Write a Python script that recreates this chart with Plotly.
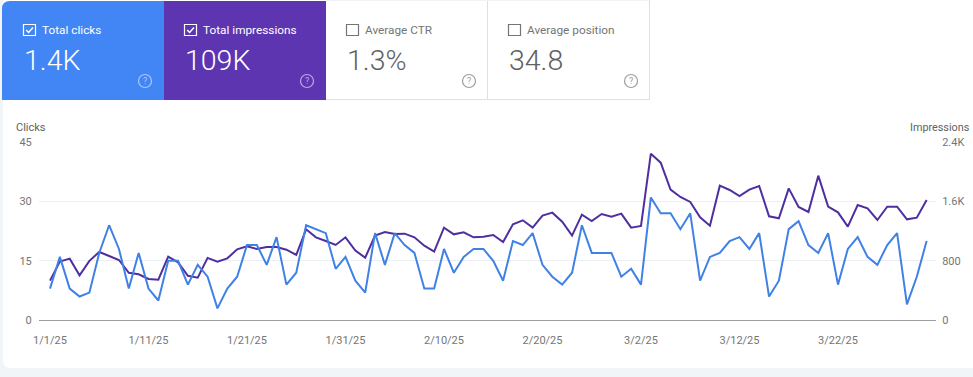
import pandas as pd
import plotly.graph_objects as go

W, H = 973, 377

clicks = [8,16,8,6,7,17,24,18,8,17,8,5,15,15,9,14,11,3,8,11,19,19,14,21,9,12,24,23,22,13,
          16,10,7,22,14,22,19,17,8,8,18,12,16,18,18,15,10,20,19,22,14,11,9,12,24,17,17,17,11,13,
          9,31,27,27,23,27,10,16,17,20,21,18,22,6,10,23,25,19,17,22,9,18,21,16,14,19,22,4,11,20]
impressions = [534,790,830,605,800,920,866,812,640,620,556,547,857,780,600,574,840,790,834,955,
               996,960,987,987,950,880,1225,1117,1068,1014,1117,938,843,1140,1189,1162,1166,1117,1005,924,
               1247,1157,1184,1117,1126,1148,1054,1292,1346,1247,1409,1449,1328,1140,1422,1337,1431,1395,1436,1247,
               1270,2243,2122,1759,1660,1593,1386,1274,1812,1754,1673,1759,1808,1400,1373,1776,1525,1458,1947,1530,
               1453,1260,1552,1507,1350,1530,1530,1359,1382,1620]
dates = pd.date_range("2025-01-01", periods=len(clicks), freq="D")

x_tick_dates = ["2025-01-01","2025-01-11","2025-01-21","2025-01-31","2025-02-10","2025-02-20","2025-03-02","2025-03-12","2025-03-22"]
x_tick_text = ["1/1/25","1/11/25","1/21/25","1/31/25","2/10/25","2/20/25","3/2/25","3/12/25","3/22/25"]
clicks_ticks = [0, 15, 30, 45]
impr_ticks = [0, 800, 1600, 2400]
impr_tick_text = ["0", "800", "1.6K", "2.4K"]

card_titles = ["Total clicks", "Total impressions", "Average CTR", "Average position"]
card_values = ["1.4K", "109K", "1.3%", "34.8"]

BLUE, PURPLE = "#4285f4", "#5e35b1"
LINE_BLUE, LINE_PURPLE = "#4081e6", "#4f2fa0"
GRID, AXIS, TICK = "#eceff4", "#9e9e9e", "#757575"

px = lambda v: v / W
py = lambda v: 1 - v / H

def rect(x0, y0, x1, y1, **kw):
    return dict(type="rect", xref="paper", yref="paper", x0=px(x0), x1=px(x1), y0=py(y0), y1=py(y1), layer="below", **kw)

def seg(x0, y0, x1, y1, color):
    return dict(type="line", xref="paper", yref="paper", x0=px(x0), x1=px(x1), y0=py(y0), y1=py(y1),
                layer="below", line=dict(color=color, width=1))

def text(x, y, s, size, color, anchor="left", weight=400):
    return dict(xref="paper", yref="paper", x=px(x), y=py(y), text=s, showarrow=False, xanchor=anchor, yanchor="middle",
                font=dict(family="Roboto", size=size, color=color, weight=weight), borderpad=0, borderwidth=0)

def round_path(x0, y0, x1, y1, tl=0, bl=0, tr=0, br=0):
    X, Y = px, py
    p = f"M {X(x0+tl)} {Y(y0)} L {X(x1-tr)} {Y(y0)} "
    if tr: p += f"Q {X(x1)} {Y(y0)} {X(x1)} {Y(y0+tr)} "
    p += f"L {X(x1)} {Y(y1-br)} "
    if br: p += f"Q {X(x1)} {Y(y1)} {X(x1-br)} {Y(y1)} "
    p += f"L {X(x0+bl)} {Y(y1)} "
    if bl: p += f"Q {X(x0)} {Y(y1)} {X(x0)} {Y(y1-bl)} "
    p += f"L {X(x0)} {Y(y0+tl)} "
    if tl: p += f"Q {X(x0)} {Y(y0)} {X(x0+tl)} {Y(y0)} "
    return p + "Z"

shapes = [
    dict(type="path", xref="paper", yref="paper", layer="below", fillcolor="#ffffff", line=dict(width=0),
         path=round_path(3, 0, 973, 368, bl=8)),
    dict(type="path", xref="paper", yref="paper", layer="below", fillcolor=BLUE, line=dict(width=0),
         path=round_path(2, 1, 164, 100, tl=8)),
    rect(164, 1, 326, 100, fillcolor=PURPLE, line=dict(width=0)),
    seg(326, 99.5, 649, 99.5, "#e0e0e0"),
    seg(487.5, 0, 487.5, 100, "#e0e0e0"),
    seg(649.5, 0, 649.5, 100, "#e0e0e0"),
    seg(326, 0.5, 649, 0.5, "#f1f3f4"),
]
annotations = []

card_x = [25, 186, 348, 510]
help_x = [145, 307, 469, 631]
help_col = ["#a9c8fb", "#bda6e6", "#9e9e9e", "#9e9e9e"]
for i, (t, v) in enumerate(zip(card_titles, card_values)):
    on = i < 2
    cx = card_x[i] - 2
    shapes.append(rect(cx + .5, 24.5, cx + 12.5, 35.5, fillcolor="rgba(0,0,0,0)",
                       line=dict(color="#ffffff" if on else "#757575", width=1.2)))
    if on:
        shapes.append(dict(type="path", xref="paper", yref="paper", layer="below", line=dict(color="#ffffff", width=1.5),
                           path=f"M {px(cx+3.2)} {py(30)} L {px(cx+5.6)} {py(32.5)} L {px(cx+10)} {py(27.5)}"))
    shapes.append(dict(type="circle", xref="paper", yref="paper", layer="below", fillcolor="rgba(0,0,0,0)",
                       x0=px(help_x[i]-6.5), x1=px(help_x[i]+6.5), y0=py(81-6.5), y1=py(81+6.5),
                       line=dict(color=help_col[i], width=1.2)))
    annotations.append(text(help_x[i], 81, "?", 9, help_col[i], "center"))
    annotations.append(text(cx + 18.5, 30, t, 11.8, "#ffffff" if on else "#757575"))
    annotations.append(text(card_x[i] - 1, 60, v, 28.5, "#ffffff" if on else "#616161", weight=300))

annotations.append(text(16, 127, "Clicks", 11, "#616161"))
annotations.append(text(969.5, 127, "Impressions", 10.8, "#616161", "right"))

fig = go.Figure()
fig.add_trace(go.Scatter(x=dates, y=impressions, name="Impressions", mode="lines", yaxis="y",
                         line=dict(color=LINE_PURPLE, width=2)))
fig.add_trace(go.Scatter(x=dates, y=clicks, name="Clicks", mode="lines", yaxis="y2",
                         line=dict(color=LINE_BLUE, width=2)))

tickfont = dict(family="Roboto", size=11, color=TICK)
fig.update_layout(
    width=W, height=H, autosize=False, showlegend=False,
    margin=dict(l=0, r=0, t=0, b=0, pad=0, autoexpand=False),
    paper_bgcolor="#f1f5f7", plot_bgcolor="rgba(0,0,0,0)",
    shapes=shapes, annotations=annotations,
    xaxis=dict(domain=[px(39), px(936)], range=["2024-12-30 21:11", "2025-03-31 22:48"],
               tickmode="array", tickvals=x_tick_dates, ticktext=x_tick_text, tickfont=tickfont,
               showgrid=False, zeroline=False, showline=False, ticks="outside", ticklen=9, tickcolor="rgba(0,0,0,0)"),
    yaxis=dict(domain=[py(320.3), py(142)], range=[0, 2400], side="right", anchor="x",
               tickmode="array", tickvals=impr_ticks, ticktext=impr_tick_text, tickfont=tickfont,
               showgrid=True, gridcolor=GRID, gridwidth=1, zeroline=False, showline=False,
               ticks="outside", ticklen=3, tickcolor="rgba(0,0,0,0)"),
    yaxis2=dict(domain=[py(320.3), py(142)], range=[0, 45], side="left", overlaying="y", anchor="x",
                tickmode="array", tickvals=clicks_ticks, tickfont=tickfont,
                showgrid=False, zeroline=True, zerolinecolor=AXIS, zerolinewidth=1, showline=False,
                ticks="outside", ticklen=4, tickcolor="rgba(0,0,0,0)"),
)
fig.write_html("out.html", config={"displayModeBar": False},
               post_script="document.body.style.margin='0';document.documentElement.style.overflow='hidden';")
